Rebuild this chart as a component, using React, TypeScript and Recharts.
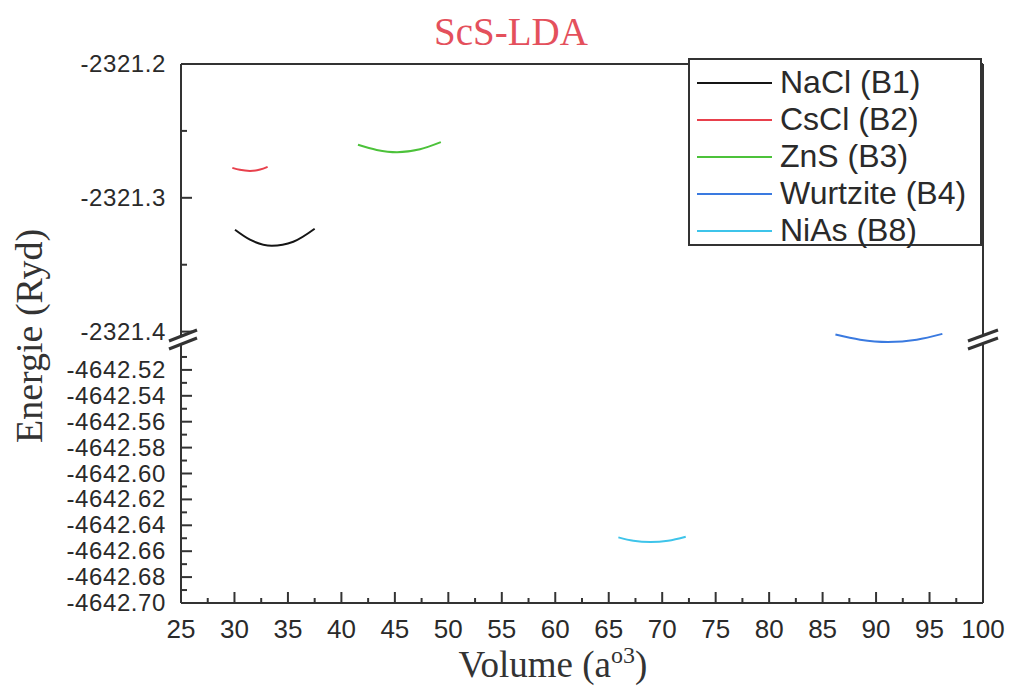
import React from 'react';
import { LineChart, Line, XAxis, YAxis, Legend } from 'recharts';

// ---------- data ----------
const xTicks = [25, 27.5, 30, 32.5, 35, 37.5, 40, 42.5, 45, 47.5, 50, 52.5, 55, 57.5, 60, 62.5, 65, 67.5, 70, 72.5, 75, 77.5, 80, 82.5, 85, 87.5, 90, 92.5, 95, 97.5, 100];
const xLabels = [25, 30, 35, 40, 45, 50, 55, 60, 65, 70, 75, 80, 85, 90, 95, 100];

const upperTicks = [-2321.4, -2321.35, -2321.3, -2321.25, -2321.2];
const upperLabels = [-2321.4, -2321.3, -2321.2];
const upperDomain = [-2321.41, -2321.2];

const lowerTicks = [-4642.7, -4642.69, -4642.68, -4642.67, -4642.66, -4642.65, -4642.64, -4642.63, -4642.62, -4642.61, -4642.6, -4642.59, -4642.58, -4642.57, -4642.56, -4642.55, -4642.54, -4642.53, -4642.52, -4642.51];
const lowerLabels = [-4642.7, -4642.68, -4642.66, -4642.64, -4642.62, -4642.6, -4642.58, -4642.56, -4642.54, -4642.52];
const lowerDomain = [-4642.7, -4642.5];

const naclV = [30.05, 31.45, 33.5, 35.5, 37.5];
const naclE = [-2321.3239, -2321.3313, -2321.3358, -2321.3328, -2321.3231];
const csclV = [29.8, 30.5, 31.45, 32.4, 33.1];
const csclE = [-2321.2776, -2321.2791, -2321.2799, -2321.2789, -2321.2769];
const znsV = [41.55, 43.3, 45.2, 47.35, 49.3];
const znsE = [-2321.2604, -2321.2642, -2321.2659, -2321.2637, -2321.2584];
const wurtziteV = [86.2, 88.5, 91.1, 93.8, 96.2];
const wurtziteE = [-2321.4022, -2321.406, -2321.4077, -2321.406, -2321.4017];
const niasV = [65.9, 67.3, 68.9, 70.55, 72.2];
const niasE = [-4642.6493, -4642.6519, -4642.6529, -4642.6519, -4642.6488];

const seriesNames = ['NaCl (B1)', 'CsCl (B2)', 'ZnS (B3)', 'Wurtzite (B4)', 'NiAs (B8)'];
const seriesColors = ['#151515', '#e8404c', '#4cc23a', '#3a7ae0', '#3ec4ea'];

const zip = (vs: number[], es: number[]) => vs.map((v, i) => ({ v, e: es[i] }));
const naclData = zip(naclV, naclE);
const csclData = zip(csclV, csclE);
const znsData = zip(znsV, znsE);
const wurtziteData = zip(wurtziteV, wurtziteE);
const niasData = zip(niasV, niasE);

// ---------- styling ----------
const AX = '#333';
const SANS = '"Liberation Sans", Arial, sans-serif';
const SERIF = '"Liberation Serif", "Times New Roman", serif';

const near = (arr: number[], v: number) => arr.some((a) => Math.abs(a - v) < 1e-6);

const makeYTick = (labels: number[], digits: number) => (props: any) => {
  const { x, y, payload } = props;
  const v = payload.value as number;
  const major = near(labels, v);
  return (
    <g>
      <line x1={x} y1={y} x2={x + (major ? 11 : 6)} y2={y} stroke={AX} strokeWidth={2} />
      {major && (
        <text x={x - 15} y={y} dy={8} textAnchor="end" fontSize={24} letterSpacing={0.6} fontFamily={SANS} fill="#2a2a2a">
          {v.toFixed(digits)}
        </text>
      )}
    </g>
  );
};

const XTick = (props: any) => {
  const { x, y, payload } = props;
  const v = payload.value as number;
  const major = near(xLabels, v);
  return (
    <g>
      <line x1={x} y1={y} x2={x} y2={y - (major ? 11 : 5)} stroke={AX} strokeWidth={2} />
      {major && (
        <text x={x} y={y} dy={35} textAnchor="middle" fontSize={26} fontFamily={SANS} fill="#2a2a2a">
          {v}
        </text>
      )}
    </g>
  );
};

const LegendBox = () => (
  <div
    style={{
      width: 294,
      height: 188,
      boxSizing: 'border-box',
      border: `2px solid ${AX}`,
      background: '#fff',
      paddingTop: 4,
    }}
  >
    {seriesNames.map((n, i) => (
      <div key={n} style={{ display: 'flex', alignItems: 'center', height: 37 }}>
        <div style={{ marginLeft: 7, width: 75, height: 2, background: seriesColors[i] }} />
        <span
          style={{
            marginLeft: 8,
            fontFamily: SANS,
            fontSize: 32,
            lineHeight: '37px',
            color: '#2a2a2a',
            whiteSpace: 'nowrap',
          }}
        >
          {n}
        </span>
      </div>
    ))}
  </div>
);

const axisLine = { stroke: AX, strokeWidth: 2 };

export default function App() {
  const lineProps = { type: 'monotone' as const, dataKey: 'e', dot: false, strokeWidth: 2, isAnimationActive: false };
  return (
    <div style={{ position: 'absolute', left: 0, top: 0, width: 1011, height: 687, background: '#fff', overflow: 'hidden' }}>
      {/* upper segment */}
      <div style={{ position: 'absolute', left: 0, top: 0 }}>
        <LineChart width={1011} height={345} margin={{ top: 63, right: 27, left: 0, bottom: 0 }}>
          <XAxis dataKey="v" type="number" domain={[25, 100]} hide allowDataOverflow />
          <XAxis xAxisId="t" orientation="top" type="number" domain={[25, 100]} tick={false} tickLine={false} height={1} axisLine={axisLine} />
          <YAxis
            type="number"
            domain={upperDomain}
            ticks={upperTicks}
            interval={0}
            allowDataOverflow
            width={181}
            tickSize={0}
            tickMargin={0}
            tickLine={false}
            axisLine={axisLine}
            tick={makeYTick(upperLabels, 1)}
          />
          <YAxis yAxisId="r" orientation="right" type="number" domain={upperDomain} allowDataOverflow tick={false} tickLine={false} width={1} axisLine={axisLine} />
          <Line {...lineProps} data={naclData} name={seriesNames[0]} stroke={seriesColors[0]} />
          <Line {...lineProps} data={csclData} name={seriesNames[1]} stroke={seriesColors[1]} />
          <Line {...lineProps} data={znsData} name={seriesNames[2]} stroke={seriesColors[2]} />
          <Line {...lineProps} data={wurtziteData} name={seriesNames[3]} stroke={seriesColors[3]} />
          <Legend
            layout="vertical"
            align="center"
            verticalAlign="middle"
            content={() => <LegendBox />}
            wrapperStyle={{ position: 'absolute', left: 688, top: 58, width: 294, height: 188 }}
          />
        </LineChart>
      </div>

      {/* lower segment */}
      <div style={{ position: 'absolute', left: 0, top: 344 }}>
        <LineChart width={1011} height={343} margin={{ top: 0, right: 27, left: 0, bottom: 44 }}>
          <XAxis
            dataKey="v"
            type="number"
            domain={[25, 100]}
            ticks={xTicks}
            interval={0}
            allowDataOverflow
            height={40}
            tickSize={0}
            tickMargin={0}
            tickLine={false}
            axisLine={axisLine}
            tick={XTick}
          />
          <YAxis
            type="number"
            domain={lowerDomain}
            ticks={lowerTicks}
            interval={0}
            allowDataOverflow
            width={181}
            tickSize={0}
            tickMargin={0}
            tickLine={false}
            axisLine={axisLine}
            tick={makeYTick(lowerLabels, 2)}
          />
          <YAxis yAxisId="r" orientation="right" type="number" domain={lowerDomain} allowDataOverflow tick={false} tickLine={false} width={1} axisLine={axisLine} />
          <Line {...lineProps} data={niasData} name={seriesNames[4]} stroke={seriesColors[4]} />
        </LineChart>
      </div>

      {/* titles and axis-break marks */}
      <svg width={1011} height={687} style={{ position: 'absolute', left: 0, top: 0, pointerEvents: 'none' }}>
        <text x={511} y={45} textAnchor="middle" fontFamily={SERIF} fontSize={39} fill="#e4505c">
          ScS-LDA
        </text>
        <text x={553} y={677} textAnchor="middle" fontFamily={SERIF} fontSize={37} fill="#333">
          Volume (a
          <tspan dy={-14} fontSize={24}>o3</tspan>
          <tspan dy={14}>)</tspan>
        </text>
        <text transform="translate(42,336) rotate(-90)" textAnchor="middle" fontFamily={SERIF} fontSize={38} fill="#333">
          Energie (Ryd)
        </text>
        {/* left break */}
        <polygon points="172,340 195,331 195,339 172,348" fill="#fff" />
        <line x1={169} y1={341} x2={197} y2={330} stroke={AX} strokeWidth={3} />
        <line x1={169} y1={349} x2={197} y2={338} stroke={AX} strokeWidth={3} />
        {/* right break */}
        <polygon points="970,340 996,331 996,339 970,348" fill="#fff" />
        <line x1={968} y1={341} x2={998} y2={330} stroke={AX} strokeWidth={3} />
        <line x1={968} y1={349} x2={998} y2={338} stroke={AX} strokeWidth={3} />
      </svg>
    </div>
  );
}
